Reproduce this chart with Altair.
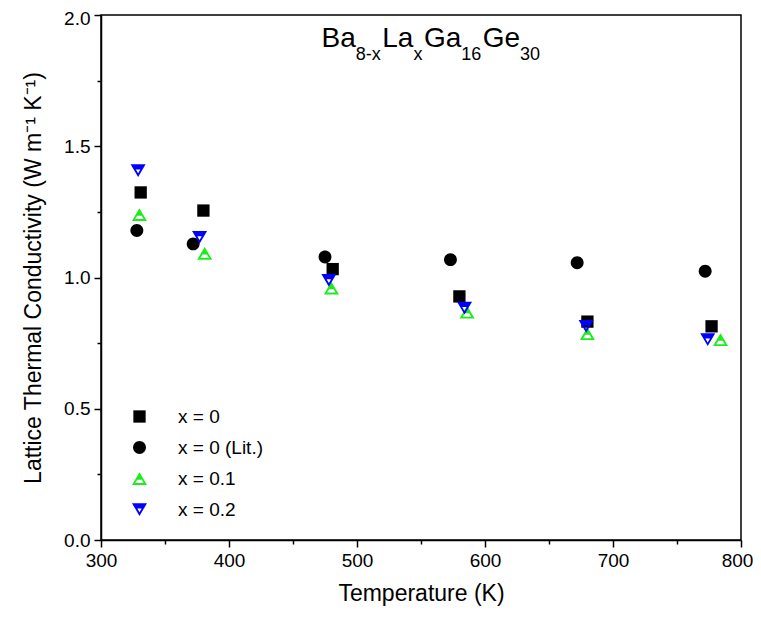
import altair as alt
import pandas as pd

# ---- data ----
SERIES = ["x = 0", "x = 0 (Lit.)", "x = 0.1", "x = 0.2"]
T_x0 = [331, 380, 481, 580, 680, 777]
k_x0 = [1.324, 1.255, 1.032, 0.928, 0.832, 0.814]
T_lit = [328, 372, 475, 573, 672, 772]
k_lit = [1.179, 1.128, 1.078, 1.068, 1.056, 1.024]
T_01 = [330, 381, 480, 586, 680, 784]
k_01 = [1.240, 1.092, 0.960, 0.868, 0.786, 0.763]
T_02 = [329, 377, 478, 584, 679, 774]
k_02 = [1.407, 1.153, 0.989, 0.883, 0.814, 0.763]
COLORS = ["#000000", "#000000", "#1aee1a", "#0000ff"]

X_TICKS = [300, 350, 400, 450, 500, 550, 600, 650, 700, 750, 800]
Y_TICKS = [0.0, 0.25, 0.5, 0.75, 1.0, 1.25, 1.5, 1.75, 2.0]

rows = []
for name, ts, ks in zip(SERIES, [T_x0, T_lit, T_01, T_02], [k_x0, k_lit, k_01, k_02]):
    for t, k in zip(ts, ks):
        rows.append({"series": name, "T": t, "k": k})
df = pd.DataFrame(rows)


# ---- symbol shapes (unit coordinates) ----
def fmt(pts):
    return "M" + "L".join(f"{x:.3f},{y:.3f}" for x, y in pts) + "Z"


def area(pts):
    s = 0
    for i in range(len(pts)):
        x1, y1 = pts[i]
        x2, y2 = pts[(i + 1) % len(pts)]
        s += x1 * y2 - x2 * y1
    return s / 2


def orient(pts, positive=True):
    if (area(pts) > 0) != positive:
        return list(reversed(pts))
    return pts


def half_filled_triangle(tri, top, t=0.25):
    A, B, C = tri
    d = lambda p, q: ((p[0] - q[0]) ** 2 + (p[1] - q[1]) ** 2) ** 0.5
    a, b, c = d(B, C), d(A, C), d(A, B)
    per = a + b + c
    ix = (a * A[0] + b * B[0] + c * C[0]) / per
    iy = (a * A[1] + b * B[1] + c * C[1]) / per
    r = abs(area(tri)) / (per / 2)
    f = (r - t) / r
    inner = [(ix + (x - ix) * f, iy + (y - iy) * f) for x, y in tri]
    return fmt(orient(tri, True)) + fmt(orient(inner, False)) + fmt(orient(top, True))


SQUARE = "M-0.82,-0.82L0.82,-0.82L0.82,0.82L-0.82,0.82Z"
CIRCLE = "M0.86,0A0.86,0.86,0,1,1,-0.86,0A0.86,0.86,0,1,1,0.86,0Z"
# up triangle: apex (0,-0.85), base y=0.85; split line at y=0.15 -> half width 0.588
TRI_UP = half_filled_triangle(
    [(0, -0.85), (1, 0.85), (-1, 0.85)], [(0, -0.85), (0.588, 0.15), (-0.588, 0.15)]
)
# down triangle: base y=-0.85, apex (0,0.85); split line at y=-0.15 -> half width 0.588
TRI_DOWN = half_filled_triangle(
    [(-1, -0.85), (1, -0.85), (0, 0.85)],
    [(-1, -0.85), (1, -0.85), (0.588, -0.15), (-0.588, -0.15)],
)
SHAPES = [SQUARE, CIRCLE, TRI_UP, TRI_DOWN]

FONT = "Liberation Sans"

common_axis = dict(
    labelFontSize=19,
    titleFontSize=23,
    labelPadding=4,
    grid=False,
    domainColor="black",
    tickColor="black",
    domainWidth=1.5,
    tickWidth=1.5,
    labelColor="black",
    titleColor="black",
    titleFontWeight="normal",
    labelFlush=False,
    labelFont=FONT,
    titleFont=FONT,
)
xaxis = alt.Axis(
    values=X_TICKS,
    labelExpr="datum.value % 100 === 0 ? datum.label : ''",
    tickSize={"condition": {"test": "datum.value % 100 === 0", "value": 7}, "value": 4},
    labelOffset={"condition": {"test": "datum.value === 800", "value": -4}, "value": 0},
    titlePadding=12,
    **common_axis,
)
yaxis = alt.Axis(
    values=Y_TICKS,
    labelExpr="abs(datum.value*2 - round(datum.value*2)) < 0.001 ? format(datum.value, '.1f') : ''",
    tickSize={
        "condition": {"test": "abs(datum.value*2 - round(datum.value*2)) < 0.001", "value": 7},
        "value": 4,
    },
    labelOffset={"condition": {"test": "datum.value === 2", "value": 3}, "value": 0},
    titlePadding=18,
    **common_axis,
)

legend = alt.Legend(
    title=None,
    orient="none",
    legendX=29,
    legendY=392,
    labelFontSize=19,
    labelFont=FONT,
    labelColor="black",
    symbolSize=225,
    symbolStrokeWidth=0,
    rowPadding=11,
    labelOffset=29,
)

points = (
    alt.Chart(df)
    .mark_point(filled=True, size=225, strokeWidth=0, opacity=1)
    .encode(
        x=alt.X("T:Q", scale=alt.Scale(domain=[300, 800], nice=False), axis=xaxis, title="Temperature (K)"),
        y=alt.Y(
            "k:Q",
            scale=alt.Scale(domain=[0, 2], nice=False),
            axis=yaxis,
            title="Lattice Thermal Conductivity (W m⁻¹ K⁻¹)",
        ),
        shape=alt.Shape("series:N", scale=alt.Scale(domain=SERIES, range=SHAPES), legend=legend),
        color=alt.Color("series:N", scale=alt.Scale(domain=SERIES, range=COLORS), legend=legend),
    )
)

# ---- chart title with sub-scripts ----
TITLE_PARTS = [("Ba", 0), ("8-x", 1), ("La", 0), ("x", 1), ("Ga", 0), ("16", 1), ("Ge", 0), ("30", 1)]
W = {"B": .667, "a": .556, "8": .556, "-": .333, "x": .5, "L": .556, "G": .778,
     "1": .556, "6": .556, "e": .556, "3": .556, "0": .556}
MAIN, SUB = 28, 18
layers = [points]
cx = 220.5
for txt, sub in TITLE_PARTS:
    fs = SUB if sub else MAIN
    layers.append(
        alt.Chart(pd.DataFrame({"t": [txt]}))
        .mark_text(align="left", baseline="alphabetic", fontSize=fs, font=FONT, color="black")
        .encode(text="t:N", x=alt.value(cx), y=alt.value(45 if sub else 32))
    )
    cx += sum(W[ch] for ch in txt) * fs + (1.5 if sub else 0)

chart = (
    alt.layer(*layers)
    .properties(
        width=640,
        height=525,
        padding={"left": 93, "top": 7, "right": 12, "bottom": 79},
        autosize=alt.AutoSizeParams(type="none"),
    )
    .configure(font=FONT)
    .configure_view(stroke="black", strokeWidth=1.5)
)

chart.save("out.html", embed_options={"renderer": "svg", "actions": False})
